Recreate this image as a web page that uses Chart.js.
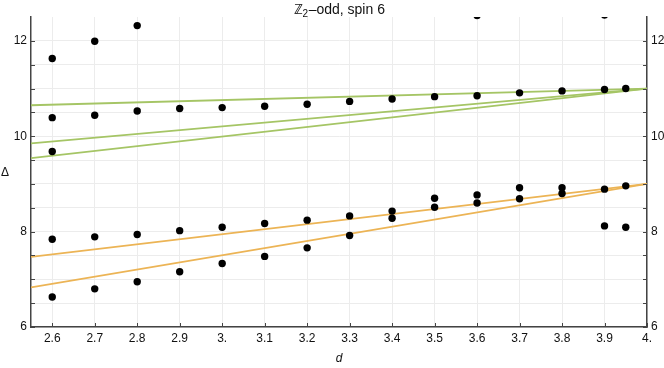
<!DOCTYPE html>
<html>
<head>
<meta charset="utf-8">
<script src="https://cdn.jsdelivr.net/npm/chart.js@4.4.1/dist/chart.umd.min.js"></script>
<style>
  html, body { margin: 0; padding: 0; background: #fff; }
  #wrap { width: 664px; height: 368px; }
</style>
</head>
<body>
<div id="wrap"><canvas id="c" width="664" height="368"></canvas></div>
<script>
// ---- data ----
const dPoints = [2.6, 2.7, 2.8, 2.9, 3.0, 3.1, 3.2, 3.3, 3.4, 3.5, 3.6, 3.7, 3.8, 3.9, 3.95];
const level1 = [11.63, 11.99, 12.32, null, null, null, null, null, null, null, 12.53, null, null, 12.54, null];
const level2 = [10.39, 10.44, 10.53, 10.58, 10.60, 10.63, 10.67, 10.73, 10.78, 10.83, 10.85, 10.91, 10.95, 10.98, 11.00];
const level3 = [9.68, null, null, null, null, null, null, null, null, null, null, null, null, null, null];
const level4 = [7.84, 7.89, 7.94, 8.02, 8.09, 8.17, 8.24, 8.33, 8.43, 8.70, 8.77, 8.92, 8.92, 8.89, 8.96];
const level5 = [6.63, 6.80, 6.95, 7.16, 7.33, 7.48, 7.66, 7.92, 8.28, 8.51, 8.60, 8.69, 8.80, 8.12, 8.09];

const lineD = [2.55, 4.0];
const green1 = [10.65, 11.0];
const green2 = [9.85, 11.0];
const green3 = [9.54, 11.0];
const orange1 = [7.47, 9.0];
const orange2 = [6.83, 9.0];

const xTickValues = [2.6, 2.7, 2.8, 2.9, 3.0, 3.1, 3.2, 3.3, 3.4, 3.5, 3.6, 3.7, 3.8, 3.9, 4.0];
const xTickLabels = ['2.6', '2.7', '2.8', '2.9', '3.', '3.1', '3.2', '3.3', '3.4', '3.5', '3.6', '3.7', '3.8', '3.9', '4.'];
const yTickValues = [6, 6.5, 7, 7.5, 8, 8.5, 9, 9.5, 10, 10.5, 11, 11.5, 12];
const yTickLabels = ['6', '', '', '', '8', '', '', '', '10', '', '', '', '12'];

const titleMain = 'ℤ';
const titleSub = '2';
const titleRest = '–odd, spin 6';
const xTitle = 'd';
const yTitle = 'Δ';

// ---- build ----
const GREEN = '#a5c565';
const ORANGE = '#ecb455';
const FONT = "'Liberation Sans', Arial, sans-serif";

function pts(ys) {
  const out = [];
  ys.forEach((y, i) => { if (y !== null) out.push({ x: dPoints[i], y: y }); });
  return out;
}
function linePts(ys) { return ys.map((y, i) => ({ x: lineD[i], y: y })); }

const pointSets = [level1, level2, level3, level4, level5].map(ys => ({
  type: 'scatter',
  data: pts(ys),
  backgroundColor: '#000',
  borderColor: '#000',
  pointRadius: 3.7,
  pointBorderWidth: 0,
  pointHoverRadius: 3.7,
  clip: 0,
  order: 0
}));
const lineSets = [[green1, GREEN], [green2, GREEN], [green3, GREEN], [orange1, ORANGE], [orange2, ORANGE]].map(([ys, c]) => ({
  type: 'line',
  data: linePts(ys),
  borderColor: c,
  borderWidth: 1.8,
  pointRadius: 0,
  fill: false,
  clip: 0,
  order: 1
}));

const tickPlugin = {
  id: 'extras',
  afterDraw(chart) {
    const ctx = chart.ctx;
    const a = chart.chartArea;
    const xs = chart.scales.x, ys = chart.scales.y;
    ctx.save();
    ctx.strokeStyle = '#444';
    ctx.lineWidth = 1;
    ctx.beginPath();
    xTickValues.forEach(v => {
      const px = Math.round(xs.getPixelForValue(v)) + 0.5;
      ctx.moveTo(px, a.bottom);
      ctx.lineTo(px, a.bottom - 4);
    });
    yTickValues.forEach(v => {
      const py = Math.round(ys.getPixelForValue(v)) + 0.5;
      ctx.moveTo(a.left, py);
      ctx.lineTo(a.left + 4, py);
      ctx.moveTo(a.right, py);
      ctx.lineTo(a.right - 4, py);
    });
    ctx.stroke();

    // y title
    ctx.fillStyle = '#111';
    ctx.font = '12px ' + FONT;
    ctx.textAlign = 'center';
    ctx.textBaseline = 'middle';
    ctx.fillText(yTitle, 5, (a.top + a.bottom) / 2 + 1);

    // title with subscript
    const mainFont = '14px ' + FONT;
    const subFont = '10px ' + FONT;
    ctx.font = mainFont;
    const w1 = ctx.measureText(titleMain).width;
    const w3 = ctx.measureText(titleRest).width;
    ctx.font = subFont;
    const w2 = ctx.measureText(titleSub).width;
    const total = w1 + w2 + w3;
    let x0 = (a.left + a.right) / 2 - total / 2;
    const yBase = 14;
    ctx.textAlign = 'left';
    ctx.textBaseline = 'alphabetic';
    ctx.font = mainFont;
    ctx.fillText(titleMain, x0, yBase);
    ctx.font = subFont;
    ctx.fillText(titleSub, x0 + w1, yBase + 3);
    ctx.font = mainFont;
    ctx.fillText(titleRest, x0 + w1 + w2 + 0.5, yBase);
    ctx.restore();
  }
};

const gridColor = '#ececec';
const tickFont = { family: FONT, size: 12 };

new Chart(document.getElementById('c'), {
  data: { datasets: [...lineSets, ...pointSets] },
  options: {
    responsive: false,
    animation: false,
    events: [],
    layout: { padding: { top: 17, left: 0, right: 0, bottom: 0 } },
    plugins: { legend: { display: false }, tooltip: { enabled: false }, title: { display: false } },
    scales: {
      x: {
        type: 'linear',
        position: 'bottom',
        min: 2.55,
        max: 4.0,
        afterBuildTicks: s => { s.ticks = xTickValues.map(v => ({ value: v })); },
        afterFit: s => { s.height = 41; },
        ticks: {
          color: '#111',
          font: tickFont,
          padding: 4,
          maxRotation: 0,
          autoSkip: false,
          callback: (v, i) => xTickLabels[i]
        },
        grid: { color: gridColor, lineWidth: 1, drawTicks: false },
        border: { display: true, color: '#444', width: 1.5 },
        title: {
          display: true,
          text: xTitle,
          color: '#111',
          font: { family: FONT, size: 12, style: 'italic' },
          padding: { top: 0, bottom: 2 }
        }
      },
      y: {
        type: 'linear',
        position: 'left',
        min: 6,
        max: 12.5,
        afterBuildTicks: s => { s.ticks = yTickValues.map(v => ({ value: v })); },
        afterFit: s => { s.width = 31; },
        ticks: {
          color: '#111',
          font: tickFont,
          padding: 4,
          autoSkip: false,
          callback: (v, i) => yTickLabels[i]
        },
        grid: { color: gridColor, lineWidth: 1, drawTicks: false },
        border: { display: true, color: '#444', width: 1.5 }
      },
      y2: {
        type: 'linear',
        position: 'right',
        min: 6,
        max: 12.5,
        afterBuildTicks: s => { s.ticks = yTickValues.map(v => ({ value: v })); },
        afterFit: s => { s.width = 17; },
        ticks: {
          color: '#111',
          font: tickFont,
          padding: 4,
          autoSkip: false,
          callback: (v, i) => yTickLabels[i]
        },
        grid: { drawOnChartArea: false, drawTicks: false },
        border: { display: true, color: '#444', width: 1.5 }
      }
    }
  },
  plugins: [tickPlugin]
});
</script>
</body>
</html>
